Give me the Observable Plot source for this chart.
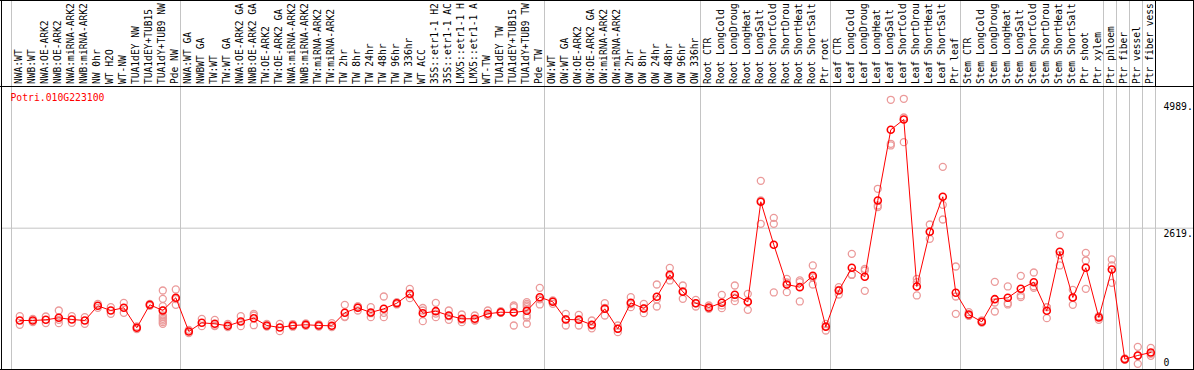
<!DOCTYPE html>
<html><head><meta charset="utf-8">
<script src="https://cdn.jsdelivr.net/npm/d3@7"></script>
<script src="https://cdn.jsdelivr.net/npm/@observablehq/plot@0.6"></script>
<style>body{margin:0;background:#fff} svg{display:block}</style>
</head><body><div id="chart"></div>
<script>
const geneName = "Potri.010G223100";
const groupSizes = [13, 28, 12, 10, 10, 11, 1, 1, 1, 1];
// labels as shown in the header (the header only has room for 14 characters)
const categories = [
  "NWA:WT","NWB:WT","NWA:OE-ARK2","NWB:OE-ARK2","NWA:miRNA-ARK2","NWB:miRNA-ARK2","NW 0hr","WT H2O","WT-NW","TUA1dEY NW","TUA1dEY+TUB15","TUA1dY+TUB9 NW","Pde NW",
  "NWA:WT GA","NWBWT GA","TW:WT","TW:WT GA","NWA:OE-ARK2 GA","NWB:OE-ARK2 GA","TW:OE-ARK2","TW:OE-ARK2 GA","NWA:miRNA-ARK2","NWB:miRNA-ARK2","TW:miRNA-ARK2","TW:miRNA-ARK2","TW 2hr","TW 8hr","TW 24hr","TW 48hr","TW 96hr","TW 336hr","WT ACC","35S::etr1-1 H2","35S::etr1-1 AC","LMX5::etr1-1 H","LMX5::etr1-1 A","WT-TW","TUA1dEY TW","TUA1dEY+TUB15","TUA1dY+TUB9 TW","Pde TW",
  "OW:WT","OW:WT GA","OW:OE-ARK2","OW:OE-ARK2 GA","OW:miRNA-ARK2","OW:miRNA-ARK2","OW 2hr","OW 8hr","OW 24hr","OW 48hr","OW 96hr","OW 336hr",
  "Root CTR","Root LongCold","Root LongDroug","Root LongHeat","Root LongSalt","Root ShortCold","Root ShortDrou","Root ShortHeat","Root ShortSalt","Ptr root",
  "Leaf CTR","Leaf LongCold","Leaf LongDroug","Leaf LongHeat","Leaf LongSalt","Leaf ShortCold","Leaf ShortDrou","Leaf ShortHeat","Leaf ShortSalt","Ptr leaf",
  "Stem CTR","Stem LongCold","Stem LongDroug","Stem LongHeat","Stem LongSalt","Stem ShortCold","Stem ShortDrou","Stem ShortHeat","Stem ShortSalt","Ptr shoot","Ptr xylem",
  "Ptr phloem","Ptr fiber","Ptr vessel","Ptr fiber vess"
];
const means = [
  896,896,909,946,915,896,1170,1083,1133,760,1189,1083,1320,
  691,853,834,797,877,939,803,765,803,816,803,797,1040,1133,1045,1114,1219,1394,1032,1070,989,928,928,1021,1051,1045,1077,1331,
  1245,915,909,816,1114,741,1226,1120,1338,1749,1432,1219,
  1139,1226,1376,1245,3112,2309,1568,1518,1730,778,
  1456,1880,1712,3136,4456,4648,1531,2552,3205,1413,
  1008,872,1294,1320,1488,1611,1077,2178,1325,1880,952,
  1848,174,243,299
];
const replicates = [
  [977,815],[925,867],[971,847],[1083,846,909],[977,853],[958,834],[1207,1133],[1145,1021],[1226,1040],[784,734],[1207,1170],
  [1456,1300,1164,1083,989,958,927,896,865,834],[1475,1188,1297],
  [722,660],[927,790],[908,790,803],[834,772],[977,790],[1020,989,808],[834,784],[834,697],[830,780],[840,795],[825,781],[846,772],
  [1188,958,970],[1157,1083,1160],[1145,958,1032],[1344,958,1040],[1238,1195,1224],[1487,1313,1382],[1083,884,1129],[1226,958,1026],
  [1083,908,976],[1008,865,911],[989,896,899],[1083,989,991],[1070,1040,1043],[1176,1145,803,1056],[1238,1207,1176,1145,989,834,950],[1506,1195,1292],
  [1257,1207,1271],[1020,803,922],[1002,803,922],[896,803,749],[1220,989,1133],[803,678,742],[1332,1145,1201],[1207,1033,1120],[1568,1157,1289],[1879,1643,1725],[1549,1301,1446],[1282,1157,1218],
  [1176,1114,1127],[1375,1126,1177],[1549,1257,1322],[1394,1095,1246],[3503,3136,2700],[2812,2700,1419],[1674,1425,1605],[1643,1612,1251],[1923,1568,1699],[834,709,791],
  [1518,1381,1469],[2140,1754,1746],[1860,1829,1450],[3354,3012,3042],[5015,4194,4163],[5034,4225,4685],[1674,1612,1363],[2688,2420,2548],[3764,3055,2781],[1904,1344,1020],
  [1052,989,983],[900,860,856],[1618,1232,1064],[1531,1220,1195],[1730,1363,1332],[1792,1506,1535],[1145,940,1146],[2495,1923,2116],[1468,1189,1318],[2159,2016,1487],[971,908,977],
  [2035,1923,1599],[190,160,172],[404,87,238],[386,274,237]
];
const yTicks = [4989, 2619, 0];
const yTickLabels = ["4989.", "2619.", "0"];
const gridValues = [2619];

// layout
const W = 1194, H = 370;
const mL = 19.3, mR = 43.7, mT = 100.7, mB = 2;
const yMax = 4989;
const pxToI = px => (px - mL) / 13;
const pxToV = py => (H - mB - py) * yMax / (H - mB - mT);

const meanRows = means.map((v, i) => ({i, v, name: categories[i]}));
const repRows = replicates.flatMap((r, i) => r.map(v => ({i, v})));
let acc = 0;
const bounds = [0, ...groupSizes.map(s => (acc += s))];
const sepRows = bounds.map(b => ({i: b - 0.638}));

const font = "'DejaVu Sans Mono', monospace";

const chart = Plot.plot({
  width: W, height: H,
  marginLeft: mL, marginRight: mR, marginTop: mT, marginBottom: mB,
  x: {type: "linear", domain: [0, categories.length - 1], axis: null},
  y: {domain: [0, yMax], axis: null},
  style: {fontFamily: font, fontSize: "9.75px", background: "#fff"},
  marks: [
    Plot.ruleX(sepRows, {x: "i", y1: pxToV(0), y2: pxToV(H), stroke: "#c4c4c4", strokeWidth: 1}),
    Plot.ruleY(gridValues, {y: d => d, x1: pxToI(1), x2: pxToI(1193), stroke: "#c4c4c4", strokeWidth: 1}),
    Plot.ruleX([pxToI(1), pxToI(1193)], {x: d => d, y1: pxToV(0), y2: pxToV(H), stroke: "#000"}),
    Plot.ruleX([pxToI(1155)], {x: d => d, y1: pxToV(0), y2: pxToV(86), stroke: "#000"}),
    Plot.ruleY([pxToV(0), pxToV(86), pxToV(369)], {y: d => d, x1: pxToI(0), x2: pxToI(1194), stroke: "#000"}),
    Plot.text(meanRows, {x: "i", text: "name", frameAnchor: "top", dy: -(mT - 83.5), dx: -1.1,
      rotate: -90, textAnchor: "start", lineAnchor: "middle", fill: "#000", fontSize: 9.6}),
    Plot.dot(repRows, {x: "i", y: "v", r: 3.5, stroke: "#eb9a9a", strokeWidth: 1.3, fill: "none"}),
    Plot.line(meanRows, {x: "i", y: "v", stroke: "#ff0000", strokeWidth: 1}),
    Plot.dot(meanRows, {x: "i", y: "v", r: 3.5, stroke: "#ff0000", strokeWidth: 1.6, fill: "none"}),
    Plot.text(yTicks.slice(0, 2), {y: d => d, text: (d, i) => yTickLabels[i], frameAnchor: "right", dx: 12.7, dy: 2,
      textAnchor: "start", lineAnchor: "top", fill: "#000", fontSize: 9.75}),
    Plot.text(yTicks.slice(2), {y: d => d, text: (d, i) => yTickLabels[2 + i], frameAnchor: "right", dx: 12.7, dy: -3,
      textAnchor: "start", lineAnchor: "bottom", fill: "#000", fontSize: 9.75}),
    Plot.text([geneName], {text: d => d, frameAnchor: "top-left", dx: 10 - mL, dy: 100 - mT,
      textAnchor: "start", lineAnchor: "bottom", fill: "#ff0000", fontSize: 9.75})
  ]
});
document.getElementById("chart").appendChild(chart);
</script>
</body></html>
